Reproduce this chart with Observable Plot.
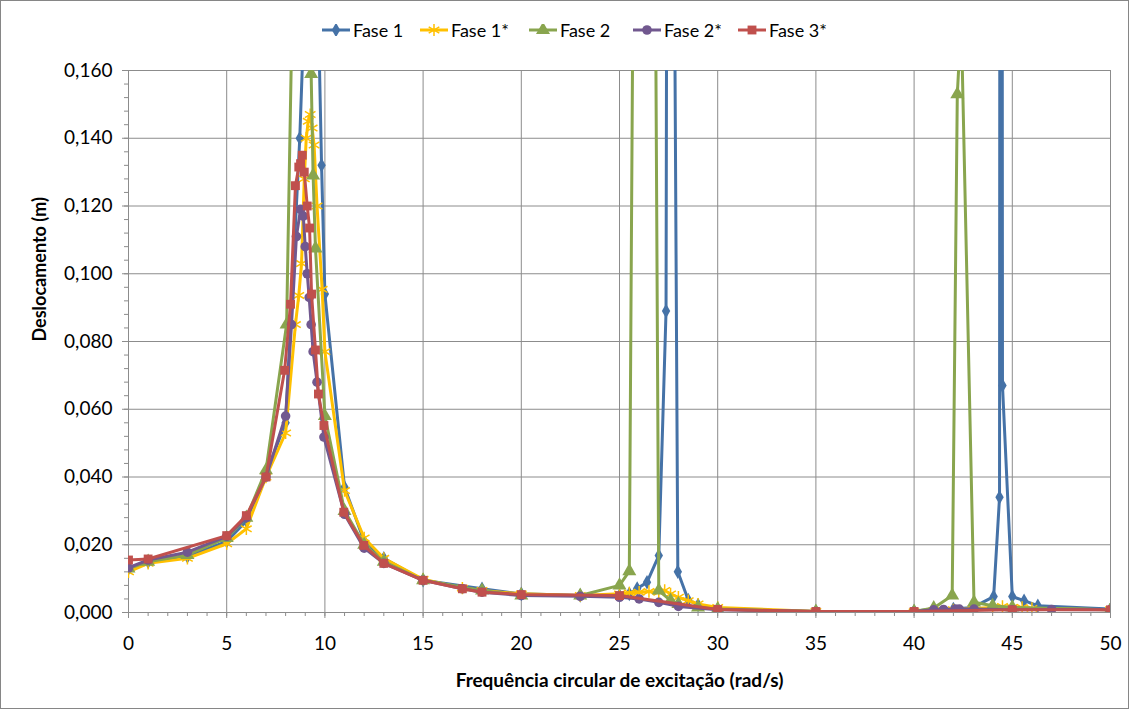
<!DOCTYPE html>
<html><head><meta charset="utf-8">
<script src="https://cdn.jsdelivr.net/npm/d3@7"></script>
<script src="https://cdn.jsdelivr.net/npm/@observablehq/plot@0.6"></script>
<style>
body{margin:0;background:#fff;font-family:Lato,"Open Sans",sans-serif;}
#wrap{position:relative;width:1129px;height:709px;overflow:hidden}
#frame{position:absolute;left:0;top:0;width:1127px;height:707px;border:1px solid #868686;pointer-events:none}
#legend{position:absolute;top:17px;left:0;width:1129px;height:26px;}
.item{position:absolute;top:0;display:flex;align-items:center;height:26px;font-size:18px;color:#000}
.item svg{margin-right:3px}
#chart{position:absolute;left:0;top:0}
</style></head><body>
<div id="wrap"><div id="chart"></div><div id="legend"></div><div id="frame"></div></div>
<script>
// ---- data ----
const seriesNames = ["Fase 1", "Fase 1*", "Fase 2", "Fase 2*", "Fase 3*"];

const xF1 = [0,1,3,5,6,7,8,8.72,9.4,9.83,10,11,12,13,15,18,20,23,25,25.5,25.9,26.4,27,27.37,27.5,27.97,28.5,29,30,35,40,41,42,43,44.05,44.35,44.42,44.5,45,45.6,46.3,50];
const yF1 = [0.013,0.015,0.0165,0.021,0.027,0.041,0.056,0.140,0.25,0.132,0.094,0.037,0.021,0.016,0.0095,0.007,0.0055,0.005,0.005,0.0055,0.0071,0.0089,0.0168,0.089,0.5,0.012,0.0037,0.0022,0.001,0.0003,0.0004,0.001,0.001,0.0015,0.0047,0.034,0.8,0.067,0.0047,0.0035,0.002,0.001];

const xF1s = [0,1,3,5,6,7,8,8.5,8.67,8.81,8.95,9.05,9.15,9.25,9.35,9.45,9.6,9.86,10,11,12,13,15,17,18,20,23,25,25.5,26,26.5,27,27.3,27.6,28,28.5,29,30,35,40,41,42,43,44,44.5,45,45.5,46,50];
const yF1s = [0.012,0.0145,0.016,0.0203,0.0247,0.040,0.053,0.085,0.0936,0.103,0.128,0.140,0.145,0.147,0.143,0.138,0.12,0.0954,0.077,0.036,0.022,0.016,0.0098,0.0072,0.0065,0.0055,0.005,0.0055,0.0058,0.006,0.0062,0.006,0.0065,0.0055,0.0045,0.0035,0.0025,0.0015,0.0003,0.0002,0.0005,0.0008,0.0012,0.0015,0.0018,0.0015,0.0015,0.0012,0.0008];

const xF2 = [0,1,3,5,6,7,8.05,8.8,9.3,9.4,9.52,10,11,12,13,15,18,20,23,25,25.5,26.3,27,27.6,28,29,30,35,40,41,41.94,42.2,42.4,43.05,44,45,50];
const yF2 = [0.013,0.015,0.017,0.022,0.028,0.042,0.085,0.33,0.159,0.129,0.1075,0.058,0.030,0.020,0.015,0.0095,0.0065,0.005,0.005,0.008,0.0122,0.75,0.0065,0.0035,0.0025,0.0015,0.001,0.0003,0.0003,0.0013,0.005,0.153,0.175,0.003,0.002,0.0015,0.0008];

const xF2s = [0,1,3,5,6,7,8,8.3,8.55,8.76,8.9,9.0,9.1,9.2,9.3,9.4,9.6,9.95,11,12,13,15,17,18,20,23,25,26,27,28,30,35,40,41,41.5,42.1,42.3,43.05,45,47,50];
const yF2s = [0.0132,0.0155,0.0178,0.0225,0.028,0.040,0.058,0.085,0.111,0.119,0.117,0.108,0.100,0.093,0.085,0.077,0.068,0.0518,0.029,0.019,0.0145,0.0095,0.007,0.006,0.005,0.0048,0.0045,0.004,0.003,0.0018,0.0008,0.0003,0.0003,0.0008,0.0009,0.001,0.001,0.001,0.0008,0.0009,0.0008];

const xF3s = [0,1,5,6,7,7.95,8.25,8.5,8.67,8.76,8.85,8.95,9.1,9.22,9.32,9.52,9.67,9.95,10.96,11.98,13,15,17,18,20,25,30,35,40,45,50];
const yF3s = [0.0155,0.0158,0.0227,0.0286,0.040,0.0715,0.091,0.126,0.1315,0.1325,0.135,0.13,0.12,0.1135,0.094,0.0775,0.0645,0.0552,0.0296,0.0198,0.0145,0.0095,0.007,0.006,0.0053,0.005,0.0009,0.0003,0.0003,0.0008,0.0008];

const xTicks = [0,5,10,15,20,25,30,35,40,45,50];
const yTicks = [0,0.02,0.04,0.06,0.08,0.10,0.12,0.14,0.16];
const xLabel = "Frequência circular de excitação (rad/s)";
const yLabel = "Deslocamento (m)";

// ---- styling ----
const colors = ["#4572A7", "#FFC000", "#89A54E", "#71588F", "#C0504D"];
const symbols = ["diamond", "asterisk", "triangle", "circle", "square"];
const radii = [4.4, 5.8, 5.2, 4.8, 5];
const xs = [xF1, xF1s, xF2, xF2s, xF3s];
const ys = [yF1, yF1s, yF2, yF2s, yF3s];

const minorY = d3.range(0, 0.1601, 0.004);
const minorX = d3.range(0, 51, 1);
const fmt = d => d3.format(".3f")(d).replace(".", ",");
const grid = "#8c8c8c";

const marks = [
  Plot.gridY(yTicks, {stroke: grid, strokeOpacity: 1, strokeWidth: 1}),
  Plot.gridX(xTicks, {stroke: grid, strokeOpacity: 1, strokeWidth: 1}),
  Plot.axisY(minorY, {tickSize: 4, text: null, stroke: grid, label: null}),
  Plot.axisY(yTicks, {tickSize: 6, tickPadding: 10, tickFormat: fmt, stroke: grid, label: null, fill: "#000", fontSize: 19}),
  Plot.axisX(minorX, {tickSize: 4, text: null, stroke: grid, label: null}),
  Plot.axisX(xTicks, {tickSize: 6, tickPadding: 18, stroke: grid, label: null, fill: "#000", fontSize: 19}),
  Plot.ruleX([0], {stroke: grid}),
  Plot.ruleY([0], {stroke: grid})
];

seriesNames.forEach((name, i) => {
  const data = xs[i].map((x, j) => ({x, y: ys[i][j]}));
  marks.push(Plot.line(data, {x: "x", y: "y", stroke: colors[i], strokeWidth: 3, clip: true, strokeLinejoin: "round"}));
  if (symbols[i] === "asterisk") {
    marks.push(Plot.dot(data, {x: "x", y: "y", symbol: "asterisk", r: radii[i], stroke: colors[i], strokeWidth: 1.5, clip: true}));
  } else {
    marks.push(Plot.dot(data, {x: "x", y: "y", symbol: symbols[i], r: radii[i], fill: colors[i], stroke: "none", clip: true}));
  }
});

marks.push(Plot.text([yLabel], {frameAnchor: "left", dx: -88, rotate: -90, text: d => d, fontWeight: "bold", fontSize: 18, fill: "#000"}));
marks.push(Plot.text([xLabel], {frameAnchor: "bottom", dy: 74, text: d => d, fontWeight: "bold", fontSize: 19, fill: "#000"}));

const chart = Plot.plot({
  width: 1129, height: 709,
  marginTop: 70, marginBottom: 97, marginLeft: 128, marginRight: 19,
  x: {domain: [0, 50]},
  y: {domain: [0, 0.16]},
  style: {fontFamily: "Lato, 'Open Sans', sans-serif", fontSize: "18px", color: "#000", background: "transparent"},
  marks
});
document.getElementById("chart").appendChild(chart);

// ---- legend ----
const legendX = [322, 420, 529, 633, 738];
const legend = document.getElementById("legend");
const symMap = {diamond: d3.symbolDiamond, asterisk: d3.symbolAsterisk, triangle: d3.symbolTriangle, circle: d3.symbolCircle, square: d3.symbolSquare};
seriesNames.forEach((name, i) => {
  const item = document.createElement("div");
  item.className = "item";
  item.style.left = legendX[i] + "px";
  const r = radii[i];
  const path = d3.symbol(symMap[symbols[i]], Math.PI * r * r)();
  const mk = symbols[i] === "asterisk"
    ? `<path d="${path}" transform="translate(14,6)" fill="none" stroke="${colors[i]}" stroke-width="1.5"/>`
    : `<path d="${path}" transform="translate(14,6)" fill="${colors[i]}"/>`;
  item.innerHTML = `<svg width="28" height="12"><line x1="0" x2="28" y1="6" y2="6" stroke="${colors[i]}" stroke-width="3"/>${mk}</svg><span>${name}</span>`;
  legend.appendChild(item);
});
</script>
</body></html>
